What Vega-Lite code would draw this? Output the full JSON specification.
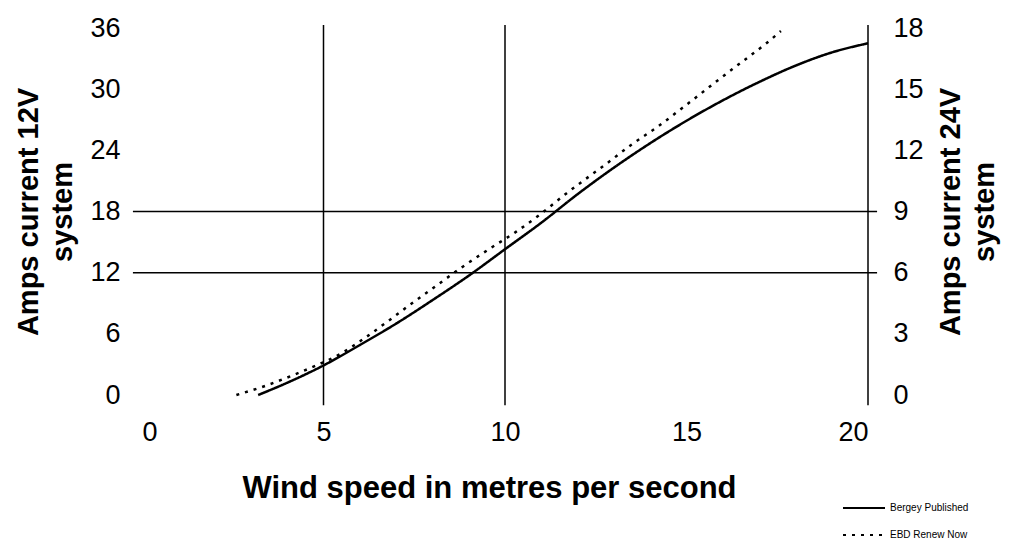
{
  "$schema": "https://vega.github.io/schema/vega-lite/v6.json",
  "width": 726,
  "height": 367,
  "autosize": {"type": "none"},
  "padding": {"left": 142, "top": 28, "right": 153, "bottom": 165},
  "background": "white",
  "config": {
    "view": {"stroke": null},
    "font": "Liberation Sans",
    "axis": {
      "grid": false, "domain": false, "ticks": false, "tickSize": 0,
      "labelFont": "Liberation Sans", "labelFontSize": 27, "labelColor": "#000",
      "titleFont": "Liberation Sans", "titleFontSize": 29, "titleFontWeight": "bold", "titleColor": "#000"
    }
  },
  "datasets": {
    "curves": [
      {"series": "Bergey Published", "speed": 3.2, "amps": 0},
      {"series": "Bergey Published", "speed": 4.0, "amps": 1.2},
      {"series": "Bergey Published", "speed": 5.0, "amps": 2.9},
      {"series": "Bergey Published", "speed": 6.0, "amps": 4.9},
      {"series": "Bergey Published", "speed": 7.0, "amps": 7.0},
      {"series": "Bergey Published", "speed": 8.0, "amps": 9.3},
      {"series": "Bergey Published", "speed": 9.0, "amps": 11.7},
      {"series": "Bergey Published", "speed": 10.0, "amps": 14.3},
      {"series": "Bergey Published", "speed": 11.0, "amps": 16.9},
      {"series": "Bergey Published", "speed": 12.0, "amps": 19.7},
      {"series": "Bergey Published", "speed": 13.0, "amps": 22.3},
      {"series": "Bergey Published", "speed": 14.0, "amps": 24.7},
      {"series": "Bergey Published", "speed": 15.0, "amps": 26.9},
      {"series": "Bergey Published", "speed": 16.0, "amps": 28.9},
      {"series": "Bergey Published", "speed": 17.0, "amps": 30.7},
      {"series": "Bergey Published", "speed": 18.0, "amps": 32.3},
      {"series": "Bergey Published", "speed": 19.0, "amps": 33.6},
      {"series": "Bergey Published", "speed": 20.0, "amps": 34.5},
      {"series": "EBD Renew Now", "speed": 2.6, "amps": 0},
      {"series": "EBD Renew Now", "speed": 3.4, "amps": 0.9},
      {"series": "EBD Renew Now", "speed": 4.2, "amps": 2.0},
      {"series": "EBD Renew Now", "speed": 4.8, "amps": 2.9},
      {"series": "EBD Renew Now", "speed": 5.5, "amps": 4.1},
      {"series": "EBD Renew Now", "speed": 6.1, "amps": 5.5},
      {"series": "EBD Renew Now", "speed": 6.8, "amps": 7.3},
      {"series": "EBD Renew Now", "speed": 7.4, "amps": 8.9},
      {"series": "EBD Renew Now", "speed": 8.1, "amps": 10.7},
      {"series": "EBD Renew Now", "speed": 8.8, "amps": 12.5},
      {"series": "EBD Renew Now", "speed": 9.6, "amps": 14.4},
      {"series": "EBD Renew Now", "speed": 10.3, "amps": 16.0},
      {"series": "EBD Renew Now", "speed": 11.0, "amps": 17.8},
      {"series": "EBD Renew Now", "speed": 11.7, "amps": 19.8},
      {"series": "EBD Renew Now", "speed": 12.8, "amps": 22.7},
      {"series": "EBD Renew Now", "speed": 13.5, "amps": 24.6},
      {"series": "EBD Renew Now", "speed": 14.2, "amps": 26.3},
      {"series": "EBD Renew Now", "speed": 14.9, "amps": 28.2},
      {"series": "EBD Renew Now", "speed": 15.3, "amps": 29.3},
      {"series": "EBD Renew Now", "speed": 15.8, "amps": 30.7},
      {"series": "EBD Renew Now", "speed": 16.5, "amps": 32.6},
      {"series": "EBD Renew Now", "speed": 17.2, "amps": 34.5},
      {"series": "EBD Renew Now", "speed": 17.6, "amps": 35.7}
    ],
    "vlines": [{"speed": 5}, {"speed": 10}, {"speed": 20}],
    "hlines": [{"amps24": 6}, {"amps24": 9}]
  },
  "layer": [
    {
      "layer": [
        {
          "data": {"name": "vlines"},
          "mark": {"type": "rule", "color": "black", "strokeWidth": 1.5},
          "encoding": {
            "x": {"field": "speed", "type": "quantitative", "scale": {"domain": [0, 20], "nice": false}},
            "y": {"datum": -1, "type": "quantitative", "scale": {"domain": [0, 36], "nice": false}},
            "y2": {"datum": 36.3}
          }
        },
        {
          "data": {"name": "curves"},
          "mark": {"type": "line", "color": "black", "strokeWidth": 2.5, "interpolate": "monotone"},
          "encoding": {
            "x": {
              "field": "speed", "type": "quantitative",
              "axis": {
                "values": [0, 5, 10, 15, 20], "labelPadding": 24,
                "title": "Wind speed in metres per second", "titleFontSize": 31,
                "titleX": 347, "titleY": 102, "titleAlign": "center", "titleBaseline": "alphabetic"
              }
            },
            "y": {
              "field": "amps", "type": "quantitative",
              "axis": {
                "values": [0, 6, 12, 18, 24, 30, 36], "labelPadding": 22,
                "title": ["Amps current 12V", "system"], "titleLineHeight": 34, "titlePadding": 12
              }
            },
            "strokeDash": {
              "field": "series", "type": "nominal",
              "scale": {"domain": ["Bergey Published", "EBD Renew Now"], "range": [[1, 0], [3, 6]]},
              "legend": {
                "orient": "none", "legendX": 700, "legendY": 458, "title": null, "padding": 0,
                "symbolType": "stroke", "symbolSize": 1764, "symbolStrokeWidth": 2, "symbolStrokeColor": "black",
                "labelFont": "Liberation Sans", "labelFontSize": 10, "labelColor": "#000", "rowPadding": -3, "labelOffset": 4
              }
            }
          }
        }
      ]
    },
    {
      "data": {"name": "hlines"},
      "mark": {"type": "rule", "color": "black", "strokeWidth": 1.5},
      "encoding": {
        "y": {
          "field": "amps24", "type": "quantitative",
          "scale": {"domain": [0, 18], "nice": false},
          "axis": {
            "orient": "right", "values": [0, 3, 6, 9, 12, 15, 18], "labelPadding": 25,
            "title": ["Amps current 24V", "system"], "titleAngle": 270, "titleLineHeight": 34, "titlePadding": 8
          }
        },
        "x": {"datum": -0.25, "type": "quantitative"},
        "x2": {"datum": 20.25}
      }
    }
  ],
  "resolve": {"scale": {"y": "independent"}, "axis": {"y": "independent"}}
}
